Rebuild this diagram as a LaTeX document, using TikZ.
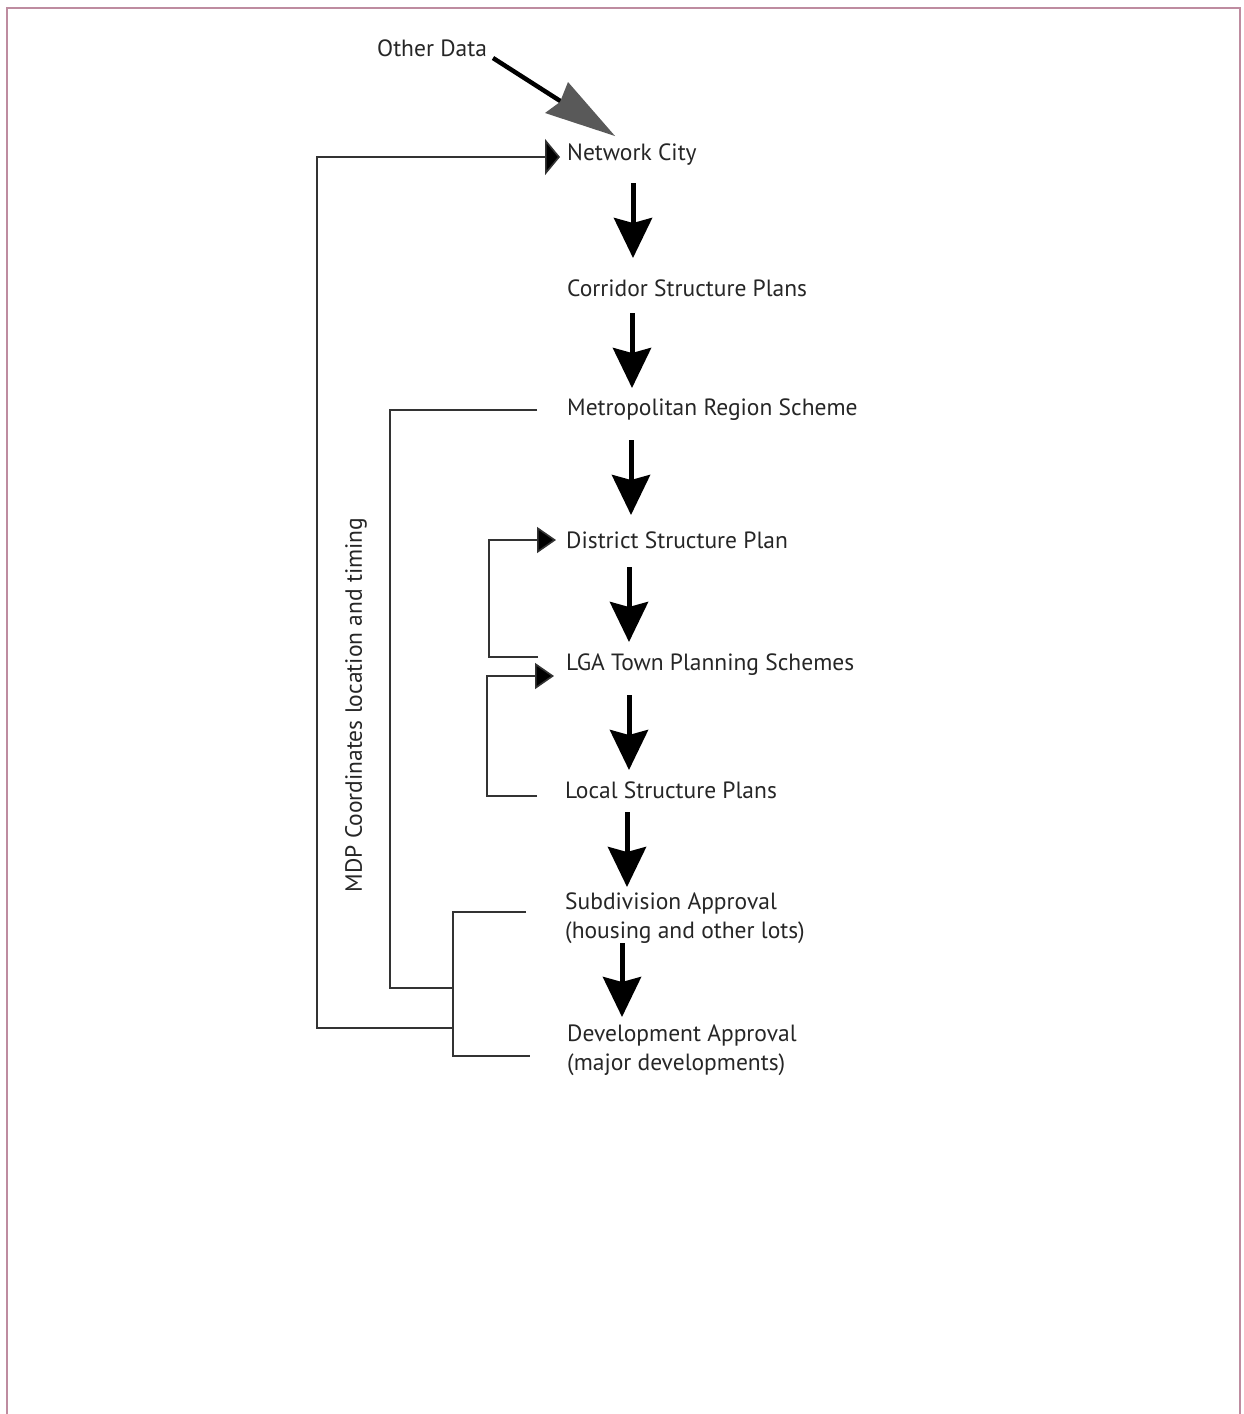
\documentclass[tikz,border=0pt]{standalone}
\usepackage{fontspec}
\setmainfont{PT Sans}
\usetikzlibrary{arrows.meta}
\begin{document}
\begin{tikzpicture}[x=1pt,y=-1pt,
  lbl/.style={anchor=west,inner sep=0pt,font=\fontsize{23.5}{29}\selectfont,text=black!85,align=left},
  thin/.style={line width=1.6pt,draw=black!80},
  fb/.style={thin,-{Triangle[width=36pt,length=15pt,fill=black]}},
  smallarr/.style={thin,-{Triangle[width=26pt,length=19pt,fill=black]}},
  bigarr/.style={line width=5pt,-{Stealth[width=38pt,length=40pt,inset=5pt]}},
  framel/.style={line width=2pt,draw={rgb,255:red,190;green,140;blue,160}}]
\useasboundingbox (0,0) rectangle (1244,1414);
\fill[white] (0,0) rectangle (1244,1414);
% frame
\draw[framel] (7,1414) -- (7,8) -- (1240,8) -- (1240,1414);
% nodes
\node[lbl] (other) at (377,48) {Other Data};
\node[lbl] (net) at (567,155) {Network City};
\node[lbl] (cor) at (567,288) {Corridor Structure Plans};
\node[lbl] (mrs) at (567,410) {Metropolitan Region Scheme};
\node[lbl] (dsp) at (566,540) {District Structure Plan};
\node[lbl] (lga) at (566,665) {LGA Town Planning Schemes};
\node[lbl] (lsp) at (565,790) {Local Structure Plans};
\node[lbl] (sub) at (565,918) {Subdivision Approval\\(housing and other lots)};
\node[lbl] (dev) at (567,1050) {Development Approval\\(major developments)};
\node[lbl,anchor=center,rotate=90] (mdp) at (356,705) {MDP Coordinates location and timing};
% other data arrow
\coordinate (odA) at (493,58);
\coordinate (odB) at (615,136);
\draw[line width=4.5pt,black,shorten >=40pt] (odA) -- (odB);
\fill[black!65] (odB) -- (568,82) -- (560,102) -- (545,113) -- cycle;
% big down arrows
\coordinate (a1s) at (633,183); \coordinate (a1e) at (633,258);
\coordinate (a2s) at (632,313); \coordinate (a2e) at (632,388);
\coordinate (a3s) at (631,440); \coordinate (a3e) at (631,515);
\coordinate (a4s) at (629,567); \coordinate (a4e) at (629,642);
\coordinate (a5s) at (629,695); \coordinate (a5e) at (629,770);
\coordinate (a6s) at (627,812); \coordinate (a6e) at (627,887);
\coordinate (a7s) at (622,943); \coordinate (a7e) at (622,1017);
\foreach \i in {1,...,7} \draw[bigarr] (a\i s) -- (a\i e);
% feedback: dev -> network city
\coordinate (fbA) at (453,1028);
\coordinate (fbB) at (560,157);
\draw[fb] (fbA) -- (317,1028) -- (317,157) -- (fbB);
% metropolitan region scheme bracket
\coordinate (mrsL) at (537,410);
\draw[thin] (mrsL) -- (390,410) -- (390,988) -- (453,988);
% sub/dev bracket
\coordinate (subL) at (526,912);
\coordinate (devL) at (530,1056);
\draw[thin] (subL) -- (453,912) -- (453,1056) -- (devL);
% LGA -> District
\coordinate (lgaL) at (538,657);
\coordinate (dspL) at (556,540);
\draw[smallarr] (lgaL) -- (489,657) -- (489,540) -- (dspL);
% LSP -> LGA
\coordinate (lspL) at (537,796);
\coordinate (lgaA) at (554,676);
\draw[smallarr] (lspL) -- (487,796) -- (487,676) -- (lgaA);
\end{tikzpicture}
\end{document}
